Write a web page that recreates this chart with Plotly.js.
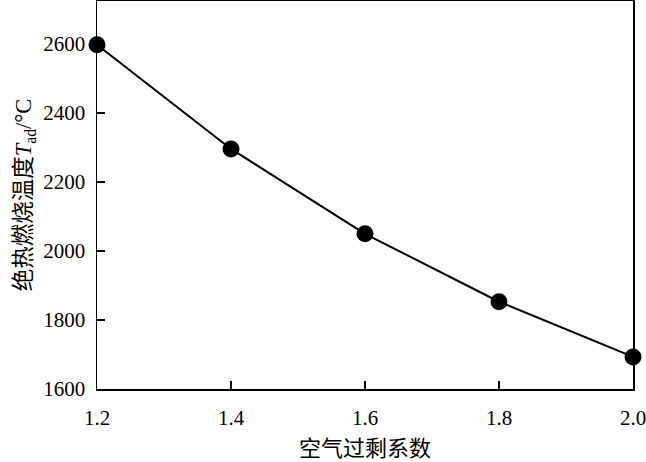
<!DOCTYPE html>
<html>
<head>
<meta charset="utf-8">
<script src="https://cdn.plot.ly/plotly-3.0.1.min.js"></script>
<style>html,body{margin:0;padding:0;background:#fff;}#chart{width:646px;height:462px;}</style>
</head>
<body>
<div id="chart"></div>
<script>
const excessAir = [1.2, 1.4, 1.6, 1.8, 2.0];
const adiabaticTemp = [2598, 2296, 2050, 1853, 1693];
const xTickVals = [1.2, 1.4, 1.6, 1.8, 2.0];
const xTickText = ['1.2', '1.4', '1.6', '1.8', '2.0'];
const yTickVals = [1600, 1800, 2000, 2200, 2400, 2600];

const trace = {
  x: excessAir,
  y: adiabaticTemp,
  mode: 'lines+markers',
  type: 'scatter',
  line: {color: '#000', width: 2},
  marker: {color: '#000', size: 17},
  cliponaxis: false,
  showlegend: false
};

const layout = {
  width: 646, height: 462,
  margin: {l: 97, r: 13, t: 1, b: 73},
  paper_bgcolor: '#fff', plot_bgcolor: '#fff',
  font: {family: '"Liberation Serif", "Noto Sans CJK SC", serif', color: '#000', size: 21},
  xaxis: {
    range: [1.2, 2.0],
    tickvals: xTickVals, ticktext: xTickText,
    ticks: 'inside', ticklen: 8, tickwidth: 1.2, tickcolor: '#000',
    ticklabelstandoff: 9, ticklabeloverflow: 'allow',
    showline: true, linecolor: '#000', linewidth: 1.5, mirror: true,
    showgrid: false, zeroline: false,
    tickfont: {family: '"Liberation Serif", serif', size: 21},
    title: {text: '空气过剩系数', font: {family: '"Noto Sans CJK SC", sans-serif', size: 22}, standoff: 5}
  },
  yaxis: {
    range: [1600, 2725],
    tickvals: yTickVals,
    ticks: 'inside', ticklen: 8, tickwidth: 1.2, tickcolor: '#000',
    ticklabelstandoff: 6, ticklabeloverflow: 'allow',
    showline: true, linecolor: '#000', linewidth: 1.5, mirror: true,
    showgrid: false, zeroline: false,
    tickfont: {family: '"Liberation Serif", serif', size: 21},
    title: {text: '<span style="font-family:Noto Sans CJK SC">绝热燃烧温度</span><i>T</i><sub>ad</sub>/°C', font: {family: '"Liberation Serif", "Noto Sans CJK SC", serif', size: 22.5}, standoff: 5}
  }
};

Plotly.newPlot('chart', [trace], layout, {displayModeBar: false, staticPlot: true});
</script>
</body>
</html>
